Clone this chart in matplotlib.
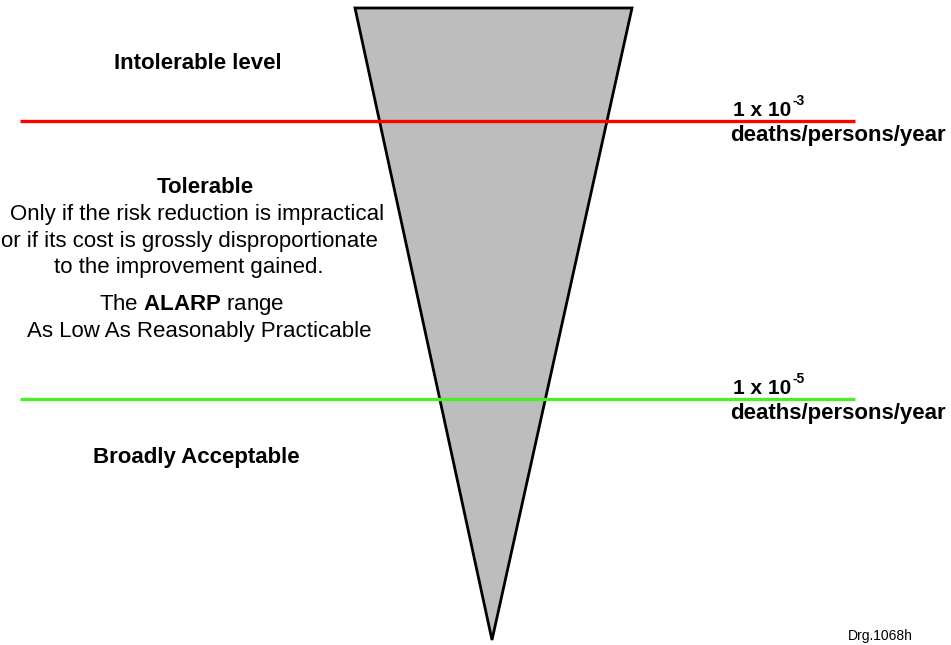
"""ALARP triangle schematic — risk tolerability levels."""
import matplotlib; matplotlib.use('Agg')
import matplotlib.pyplot as plt
from matplotlib.patches import Polygon

plt.rcParams.update({
    'font.family': ['Liberation Sans', 'DejaVu Sans'],
    'font.size': 16,
    'mathtext.fontset': 'custom',
    'mathtext.rm': 'Liberation Sans',
    'mathtext.bf': 'Liberation Sans:bold',
})

# thresholds (exponent of individual risk, deaths/persons/year)
risk_exponents = [-3, -5]
risk_colors = ['#ff0000', '#4cee2a']
risk_unit = 'deaths/persons/year'

zone_titles = ['Intolerable level', 'Tolerable', 'Broadly Acceptable']
tolerable_lines = [
    'Only if the risk reduction is impractical',
    'or if its cost is grossly disproportionate',
    'to the improvement gained.',
]
drawing_ref = 'Drg.1068h'

W, H = 951, 645
fig = plt.figure(figsize=(W / 100, H / 100), dpi=100)
ax = fig.add_axes([0, 0, 1, 1])
ax.set_xlim(0, W)
ax.set_ylim(H, 0)
ax.axis('off')
fig.patch.set_facecolor('white')

# inverted triangle
tri = Polygon([(355, 8), (632, 8), (492, 640)], closed=True,
              fc='#bdbdbd', ec='black', lw=2.0, joinstyle='miter', zorder=1)
ax.add_patch(tri)

# threshold lines + right-hand labels
line_y = [121, 399]
for exp, col, y in zip(risk_exponents, risk_colors, line_y):
    ax.plot([20, 855], [y, y], color=col, lw=2.4, solid_capstyle='butt', zorder=3)
    t = ax.text(733, y - 5, '1 x 10', fontsize=15, fontweight='bold',
                ha='left', va='baseline')
    ax.annotate(f'-{abs(exp)}', xy=(1, 1), xycoords=t, xytext=(1, -5),
                textcoords='offset points', fontsize=10, fontweight='bold',
                ha='left', va='bottom')
    ax.text(730, y + 20, risk_unit, fontsize=16, fontweight='bold',
            ha='left', va='baseline')

# left zone labels
cx = 197
ax.text(cx + 1, 69, zone_titles[0], fontsize=16, fontweight='bold', ha='center', va='baseline')
ax.text(cx + 8, 193, zone_titles[1], fontsize=16, fontweight='bold', ha='center', va='baseline')
line_dx = [0, -8, -8]
for i, s in enumerate(tolerable_lines):
    ax.text(cx + line_dx[i], 220 + 26.7 * i, s, fontsize=16, ha='center', va='baseline')
ax.text(cx - 5, 310, r'The $\mathbf{ALARP}$ range', fontsize=16, ha='center', va='baseline')
ax.text(cx + 2, 337, 'As Low As Reasonably Practicable', fontsize=16,
        ha='center', va='baseline')
ax.text(cx - 1, 463, zone_titles[2], fontsize=16, fontweight='bold', ha='center', va='baseline')

ax.text(848, 640, drawing_ref, fontsize=10, ha='left', va='baseline')

fig.savefig('out.png', dpi=100)
plt.close()
